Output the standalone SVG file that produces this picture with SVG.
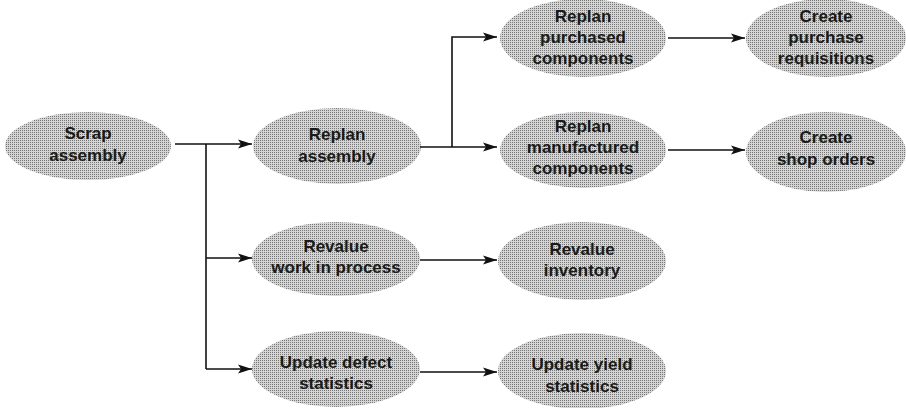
<svg xmlns="http://www.w3.org/2000/svg" width="906" height="408" viewBox="0 0 906 408">
<defs>
<pattern id="dots" width="2" height="2" patternUnits="userSpaceOnUse">
<rect width="2" height="2" fill="#d4d4d4"/>
<rect width="1" height="1" fill="#777"/>
</pattern>
<marker id="arr" viewBox="0 0 14 10" refX="14" refY="5" markerWidth="14" markerHeight="10" markerUnits="userSpaceOnUse" orient="auto">
<path d="M0,0.5 L14,5 L0,9.5 L3,5 Z" fill="#111"/>
</marker>
</defs>
<style>
.n ellipse{fill:url(#dots);stroke:none}
.n text{font-family:"Liberation Sans",Arial,sans-serif;font-size:17px;font-weight:bold;fill:#1a1a1a;text-anchor:middle}
.c path{fill:none;stroke:#111;stroke-width:1.6}
</style>
<rect width="906" height="408" fill="#fff"/>
<g id="scrap" class="n"><ellipse cx="88" cy="146" rx="83" ry="34"/><text x="88" y="139">Scrap</text><text x="88" y="161">assembly</text></g>
<g id="replan-assembly" class="n"><ellipse cx="337" cy="146" rx="84" ry="38"/><text x="337" y="140">Replan</text><text x="337" y="162">assembly</text></g>
<g id="replan-purchased" class="n"><ellipse cx="583" cy="38" rx="83" ry="39"/><text x="583" y="22">Replan</text><text x="583" y="43">purchased</text><text x="583" y="64">components</text></g>
<g id="create-requisitions" class="n"><ellipse cx="826" cy="38" rx="80" ry="39"/><text x="826" y="22">Create</text><text x="826" y="43">purchase</text><text x="826" y="64">requisitions</text></g>
<g id="replan-manufactured" class="n"><ellipse cx="583" cy="150" rx="83" ry="38"/><text x="583" y="132">Replan</text><text x="583" y="153">manufactured</text><text x="583" y="174">components</text></g>
<g id="create-shop-orders" class="n"><ellipse cx="826" cy="152" rx="80" ry="40"/><text x="826" y="143">Create</text><text x="826" y="165">shop orders</text></g>
<g id="revalue-wip" class="n"><ellipse cx="336" cy="259" rx="84" ry="37"/><text x="336" y="252">Revalue</text><text x="336" y="273">work in process</text></g>
<g id="revalue-inventory" class="n"><ellipse cx="582" cy="261" rx="84" ry="39"/><text x="582" y="255">Revalue</text><text x="582" y="276">inventory</text></g>
<g id="update-defect" class="n"><ellipse cx="336" cy="369" rx="84" ry="38"/><text x="336" y="368">Update defect</text><text x="336" y="389">statistics</text></g>
<g id="update-yield" class="n"><ellipse cx="582" cy="371" rx="84" ry="38"/><text x="582" y="370">Update yield</text><text x="582" y="392">statistics</text></g>
<g id="connectors" class="c">
<path d="M175,144 H252" marker-end="url(#arr)"/>
<path d="M206,144 V369"/>
<path d="M206,258 H252" marker-end="url(#arr)"/>
<path d="M206,369 H252" marker-end="url(#arr)"/>
<path d="M420,147 H497" marker-end="url(#arr)"/>
<path d="M452,147 V37 H497" marker-end="url(#arr)"/>
<path d="M668,38 H745" marker-end="url(#arr)"/>
<path d="M668,150 H745" marker-end="url(#arr)"/>
<path d="M420,260 H497" marker-end="url(#arr)"/>
<path d="M420,372 H497" marker-end="url(#arr)"/>
</g>
</svg>
